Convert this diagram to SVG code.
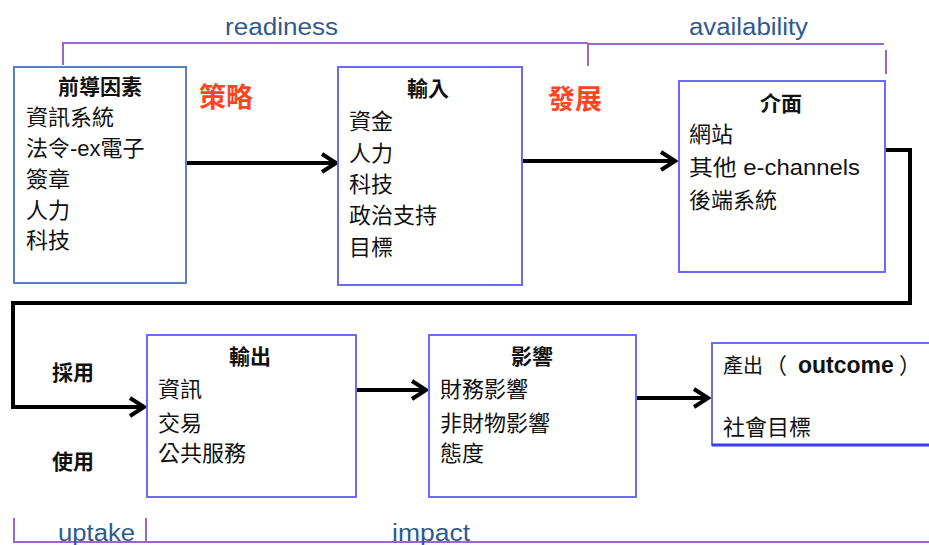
<svg xmlns="http://www.w3.org/2000/svg" width="929" height="545" viewBox="0 0 929 545">
<defs>
<style>
.box{fill:#fff;stroke:#6a6aff;stroke-width:2}
.box1{fill:#fff;stroke:#5b82b8;stroke-width:2}
.t{font-family:"Liberation Sans","Noto Sans CJK TC",sans-serif;font-size:22px;fill:#111}
.tb{font-family:"Liberation Sans","Noto Sans CJK TC",sans-serif;font-size:21px;font-weight:bold;fill:#111}
.red{font-family:"Noto Sans CJK TC",sans-serif;font-size:27px;font-weight:bold;fill:#ff4422}
.blue{font-family:"Liberation Sans",sans-serif;font-size:23px;fill:#2f5a8f}
.br{fill:none;stroke:#9966cc;stroke-width:2}
.conn{fill:none;stroke:#000;stroke-width:4}
</style>
<marker id="arr" markerUnits="userSpaceOnUse" markerWidth="24" markerHeight="24" viewBox="-18 -12 22 24" refX="0" refY="0" orient="auto">
<path d="M-14,-9 L0,0 L-14,9" fill="none" stroke="#000" stroke-width="4" stroke-linejoin="miter"/>
</marker>
</defs>
<rect width="929" height="545" fill="#fff"/>

<g id="brackets">
<polyline class="br" points="63,65 63,43 588,43"/>
<polyline class="br" points="588,66 588,44 884,44"/>
<line class="br" x1="886" y1="50" x2="886" y2="74" stroke-width="3"/>
<polyline class="br" points="14,518 14,542 929,542"/>
<line class="br" x1="146" y1="518" x2="146" y2="542"/>
<text class="blue" x="225" y="35" textLength="113" lengthAdjust="spacingAndGlyphs">readiness</text>
<text class="blue" x="689" y="35" textLength="119" lengthAdjust="spacingAndGlyphs">availability</text>
<text class="blue" x="58" y="541" textLength="77" lengthAdjust="spacingAndGlyphs">uptake</text>
<text class="blue" x="392" y="541" textLength="78" lengthAdjust="spacingAndGlyphs">impact</text>
</g>

<g id="labels">
<text class="red" x="199" y="107">策略</text>
<text class="red" x="548" y="109">發展</text>
<text class="tb" x="52" y="380">採用</text>
<text class="tb" x="52" y="469">使用</text>
</g>

<g id="connectors">
<line class="conn" x1="187" y1="163" x2="336" y2="163" marker-end="url(#arr)"/>
<line class="conn" x1="523" y1="161" x2="675" y2="161" marker-end="url(#arr)"/>
<polyline class="conn" points="885,150 910,150 910,303 13,303 13,407 144,407" marker-end="url(#arr)"/>
<line class="conn" x1="357" y1="390" x2="426" y2="390" marker-end="url(#arr)"/>
<line class="conn" x1="637" y1="398" x2="708" y2="398" marker-end="url(#arr)"/>
</g>

<g id="node-antecedents">
<rect class="box1" x="14" y="67" width="172" height="216"/>
<text class="tb" x="100" y="94" text-anchor="middle">前導因素</text>
<text class="t" x="26" y="125">資訊系統</text>
<text class="t" x="26" y="156">法令-ex電子</text>
<text class="t" x="26" y="187">簽章</text>
<text class="t" x="26" y="218">人力</text>
<text class="t" x="26" y="248">科技</text>
</g>

<g id="node-input">
<rect class="box" x="338" y="67" width="184" height="218"/>
<text class="tb" x="428" y="96" text-anchor="middle">輸入</text>
<text class="t" x="349" y="129">資金</text>
<text class="t" x="349" y="161">人力</text>
<text class="t" x="349" y="192">科技</text>
<text class="t" x="349" y="223">政治支持</text>
<text class="t" x="349" y="255">目標</text>
</g>

<g id="node-interface">
<rect class="box" x="679" y="81" width="206" height="191"/>
<text class="tb" x="781" y="111" text-anchor="middle">介面</text>
<text class="t" x="689" y="142">網站</text>
<text class="t" x="689" y="175" textLength="171" lengthAdjust="spacingAndGlyphs">其他 e-channels</text>
<text class="t" x="689" y="208">後端系統</text>
</g>

<g id="node-output">
<rect class="box" x="147" y="335" width="209" height="162"/>
<text class="tb" x="250" y="364" text-anchor="middle">輸出</text>
<text class="t" x="158" y="397">資訊</text>
<text class="t" x="158" y="431">交易</text>
<text class="t" x="158" y="461">公共服務</text>
</g>

<g id="node-outcome">
<rect class="box" x="712" y="343" width="230" height="102"/>
<line x1="712" y1="445" x2="929" y2="445" stroke="#3a3aee" stroke-width="3"/>
<text class="t" x="723" y="373"><tspan font-size="20">產出</tspan><tspan x="765">（</tspan><tspan x="798" font-weight="bold" font-size="23">outcome</tspan><tspan x="899">）</tspan></text>
<text class="t" x="723" y="435">社會目標</text>
</g>

<g id="node-impact">
<rect class="box" x="429" y="335" width="207" height="162"/>
<text class="tb" x="532" y="364" text-anchor="middle">影響</text>
<text class="t" x="440" y="397">財務影響</text>
<text class="t" x="440" y="431">非財物影響</text>
<text class="t" x="440" y="461">態度</text>
</g>
</svg>
